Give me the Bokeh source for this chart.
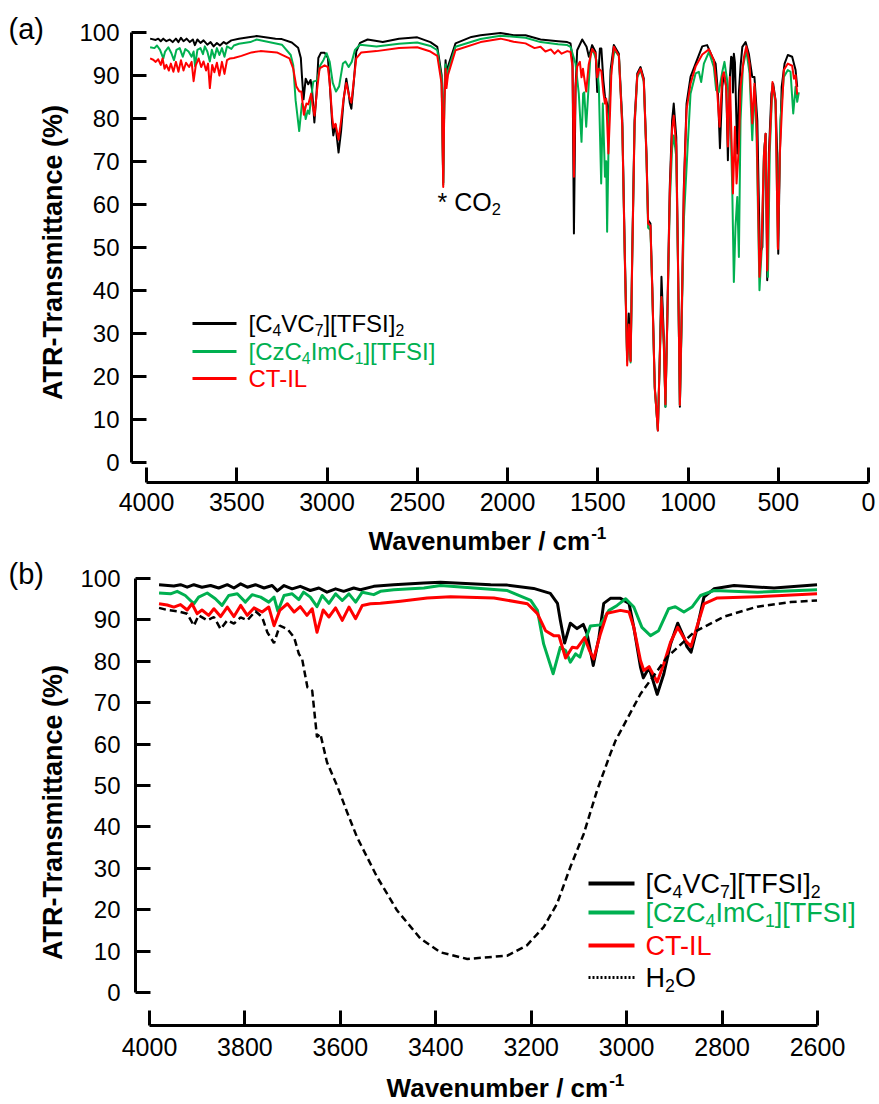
import numpy as np
from bokeh.plotting import figure
from bokeh.models import Range1d, FixedTicker, Label, Arrow
from bokeh.layouts import column
from bokeh.embed import file_html
from bokeh.resources import INLINE

FONT = "Liberation Sans"
BLACK, GREEN, RED = "#000000", "#00B050", "#FF0000"

# ATR-FTIR spectra: (wavenumber / cm-1, transmittance / %)
C4VC7_TFSI2 = [
    (3980, 98.5), (3949, 98.2), (3935, 98.5), (3921, 97.9), (3907, 98.5), (3890, 97.9),
    (3872, 98.3), (3855, 97.7), (3837, 98.5), (3823, 97.7), (3809, 98.7), (3795, 97.9),
    (3778, 98.5), (3760, 97.7), (3743, 98.3), (3732, 97.0), (3718, 98.3), (3701, 97.5),
    (3684, 98.1), (3663, 97.1), (3645, 97.7), (3628, 96.7), (3610, 97.5), (3593, 96.9),
    (3572, 97.7), (3558, 97.3), (3530, 98.1), (3488, 98.5), (3425, 98.9), (3390, 99.1),
    (3285, 98.5), (3250, 98.4), (3195, 97.6), (3160, 96.4), (3145, 94.0), (3139, 89.9),
    (3130, 84.4), (3118, 89.2), (3104, 87.9), (3091, 88.9), (3083, 86.7), (3070, 79.0),
    (3058, 85.8), (3048, 94.0), (3034, 95.2), (3013, 95.2), (2995, 94.0), (2985, 88.2),
    (2971, 78.6), (2965, 76.0), (2953, 78.5), (2936, 72.0), (2922, 77.0), (2908, 84.2),
    (2893, 89.2), (2880, 85.8), (2874, 83.6), (2865, 82.2), (2852, 88.2), (2838, 95.5),
    (2817, 97.5), (2775, 98.3), (2691, 97.7), (2601, 98.5),
    (2500, 98.8), (2427, 97.7), (2389, 96.6), (2365, 90.0), (2356, 65.0), (2350, 85.0),
    (2343, 93.5), (2338, 88.8), (2330, 92.0), (2288, 97.4), (2200, 98.9), (2149, 99.3),
    (2039, 99.8), (1966, 99.3), (1900, 99.3), (1817, 98.3), (1720, 97.9), (1669, 97.7),
    (1651, 97.4), (1640, 94.0), (1632, 53.2), (1623, 87.3), (1614, 95.8), (1586, 98.3),
    (1562, 96.6), (1549, 94.3), (1531, 97.0), (1512, 95.4), (1503, 86.1), (1488, 96.2),
    (1480, 96.2), (1469, 88.8), (1460, 85.0), (1448, 83.4), (1438, 79.5), (1429, 91.2),
    (1411, 97.0), (1383, 95.0), (1364, 79.5), (1350, 48.6), (1337, 23.7), (1328, 34.6),
    (1318, 23.7), (1309, 48.6), (1296, 79.5), (1281, 90.4), (1263, 91.9), (1245, 89.2),
    (1230, 71.8), (1221, 56.3), (1208, 55.5), (1198, 40.8), (1184, 17.5), (1167, 7.4),
    (1156, 25.3), (1147, 43.1), (1134, 29.1), (1125, 12.9), (1115, 33.0), (1101, 64.0),
    (1088, 79.5), (1079, 83.4), (1065, 75.6), (1056, 48.5), (1045, 12.9), (1032, 40.8),
    (1023, 64.0), (1008, 83.4), (986, 89.6), (958, 92.7), (921, 96.7), (894, 97.0),
    (866, 94.3), (847, 92.7), (834, 85.7), (823, 73.0), (810, 87.3), (801, 90.4),
    (788, 87.3), (779, 70.2), (768, 89.6), (761, 94.3), (755, 94.0), (751, 86.0),
    (746, 95.0), (740, 93.0), (727, 71.8), (718, 86.0), (709, 92.0), (699, 96.6),
    (681, 97.7), (663, 95.0), (644, 89.6), (632, 89.6), (616, 79.5), (602, 48.5),
    (588, 50.0), (579, 71.8), (570, 76.4), (561, 42.3), (552, 71.8), (538, 85.7),
    (528, 88.0), (515, 84.2), (506, 71.8), (500, 48.5), (491, 71.8), (481, 87.3),
    (465, 92.7), (447, 94.7), (423, 94.3), (404, 91.2), (395, 87.3),
]

CZC4IMC1_TFSI = [
    (3980, 96.5), (3956, 96.3), (3942, 96.9), (3925, 95.9), (3907, 93.9), (3897, 95.5),
    (3879, 96.5), (3862, 95.1), (3848, 93.5), (3834, 95.9), (3816, 96.3), (3799, 94.3),
    (3785, 96.1), (3767, 95.5), (3750, 94.3), (3739, 95.5), (3731, 92.1), (3718, 95.9),
    (3701, 96.3), (3687, 94.9), (3677, 96.7), (3663, 95.5), (3649, 93.2), (3638, 95.9),
    (3624, 94.0), (3610, 96.3), (3596, 94.7), (3582, 96.3), (3568, 94.3), (3554, 96.7),
    (3530, 96.1), (3516, 96.9), (3488, 97.3), (3425, 97.7), (3390, 98.3),
    (3250, 97.1), (3201, 94.7), (3187, 92.3), (3174, 84.2), (3154, 77.0), (3139, 83.4),
    (3128, 82.6), (3118, 79.8), (3107, 81.8), (3098, 81.0), (3086, 85.4), (3076, 88.5),
    (3055, 88.8), (3037, 92.3), (3020, 93.5), (3002, 95.1), (2985, 93.1), (2968, 88.2),
    (2950, 86.2), (2933, 87.4), (2912, 92.7), (2898, 93.2), (2880, 91.9), (2863, 93.1),
    (2845, 95.9), (2817, 97.1), (2726, 96.7), (2601, 97.3),
    (2500, 97.6), (2427, 96.8), (2389, 95.8), (2365, 89.0), (2356, 64.5), (2350, 84.0),
    (2343, 92.5), (2338, 88.0), (2330, 91.0), (2288, 96.6), (2149, 98.4), (2039, 99.2),
    (1900, 98.7), (1817, 97.7), (1720, 97.2), (1669, 97.0), (1651, 96.6), (1623, 92.7),
    (1605, 85.7), (1590, 74.5), (1581, 85.7), (1575, 86.0), (1564, 78.0), (1554, 85.0),
    (1540, 95.0), (1527, 95.8), (1507, 93.5), (1494, 87.3), (1481, 64.8), (1472, 83.4),
    (1460, 66.4), (1453, 70.0), (1448, 53.6), (1438, 79.5), (1425, 91.2), (1407, 95.8),
    (1383, 94.5), (1364, 78.0), (1350, 47.0), (1337, 23.5), (1328, 28.4), (1318, 23.2),
    (1309, 47.0), (1296, 78.0), (1281, 89.5), (1263, 91.2), (1245, 88.5), (1230, 70.5),
    (1221, 54.5), (1208, 54.0), (1198, 40.0), (1184, 17.0), (1167, 7.6), (1156, 24.5),
    (1147, 38.4), (1134, 27.0), (1125, 12.9), (1115, 32.0), (1101, 60.0), (1088, 73.0),
    (1079, 76.0), (1065, 71.0), (1056, 47.0), (1045, 13.3), (1032, 38.0), (1023, 56.3),
    (1001, 74.1), (986, 85.7), (958, 90.4), (940, 90.8), (927, 88.4), (912, 92.7),
    (884, 95.4), (857, 91.9), (844, 86.5), (829, 86.1), (810, 90.8), (798, 93.1),
    (783, 88.8), (765, 81.1), (755, 64.0), (746, 41.9), (737, 54.7), (727, 61.7),
    (718, 47.7), (709, 79.5), (696, 91.9), (677, 95.8), (659, 90.4), (644, 74.9),
    (632, 87.3), (620, 75.6), (604, 40.0), (593, 48.5), (579, 71.8), (570, 76.0),
    (557, 43.1), (547, 72.0), (532, 88.0), (515, 83.4), (502, 50.0), (488, 79.5),
    (469, 89.6), (447, 91.2), (432, 90.8), (417, 81.1), (404, 87.3), (395, 83.8),
    (386, 86.0),
]

CT_IL = [
    (3980, 93.9), (3963, 93.6), (3949, 93.1), (3935, 93.7), (3921, 92.4), (3911, 93.9),
    (3900, 91.5), (3890, 92.4), (3876, 91.1), (3865, 92.7), (3851, 90.8), (3837, 93.1),
    (3823, 90.8), (3809, 93.5), (3795, 91.1), (3781, 92.9), (3764, 91.9), (3750, 93.1),
    (3739, 88.6), (3727, 92.3), (3711, 93.9), (3697, 91.9), (3684, 93.2), (3670, 91.1),
    (3659, 92.7), (3649, 87.0), (3636, 92.4), (3624, 90.7), (3610, 92.9), (3596, 89.9),
    (3582, 93.1), (3568, 90.3), (3554, 93.5), (3537, 93.9), (3516, 94.0), (3474, 94.5),
    (3418, 95.3), (3369, 95.6),
    (3278, 95.3), (3208, 93.9), (3187, 91.5), (3170, 87.4), (3153, 86.2), (3142, 86.2),
    (3128, 80.8), (3114, 83.4), (3104, 83.2), (3088, 85.7), (3078, 82.6), (3069, 80.6),
    (3055, 86.6), (3041, 91.6), (3013, 92.3), (2995, 91.9), (2985, 88.2), (2971, 80.2),
    (2964, 77.8), (2953, 78.7), (2936, 75.0), (2922, 79.4), (2908, 84.6), (2893, 88.2),
    (2877, 85.0), (2865, 83.6), (2852, 88.6), (2838, 93.9), (2810, 95.3), (2726, 95.6),
    (2601, 96.3),
    (2500, 96.5), (2427, 95.5), (2389, 94.5), (2365, 88.0), (2356, 64.0), (2350, 83.0),
    (2343, 91.5), (2338, 87.0), (2330, 90.0), (2288, 95.8), (2149, 97.7), (2039, 98.5),
    (1966, 97.8), (1900, 97.4), (1850, 96.3), (1817, 96.6), (1790, 95.5), (1760, 96.0),
    (1740, 95.0), (1720, 95.8), (1700, 95.0), (1669, 95.6), (1651, 95.4), (1640, 92.0),
    (1632, 66.4), (1623, 87.3), (1614, 92.0), (1599, 93.1), (1590, 89.5), (1582, 91.5),
    (1564, 86.2), (1550, 92.5), (1531, 96.1), (1512, 95.0), (1503, 89.5), (1494, 91.5),
    (1480, 91.0), (1469, 86.0), (1460, 83.4), (1453, 84.5), (1441, 71.8), (1433, 80.0),
    (1425, 90.0), (1411, 96.6), (1383, 94.5), (1364, 78.0), (1350, 47.5), (1337, 22.5),
    (1328, 32.0), (1318, 23.5), (1309, 47.5), (1296, 78.5), (1281, 90.0), (1263, 91.5),
    (1245, 88.8), (1230, 71.0), (1221, 55.5), (1208, 55.0), (1198, 40.5), (1184, 17.2),
    (1167, 7.4), (1156, 25.0), (1147, 38.4), (1134, 27.5), (1125, 13.5), (1115, 32.5),
    (1101, 62.5), (1088, 77.5), (1079, 80.6), (1065, 73.5), (1056, 48.0), (1045, 13.3),
    (1032, 40.5), (1023, 63.0), (1008, 82.0), (986, 88.0), (958, 92.0), (921, 94.8),
    (884, 96.0), (857, 93.5), (840, 87.3), (825, 78.0), (810, 89.6), (801, 90.7),
    (788, 87.0), (779, 73.4), (768, 89.6), (751, 62.5), (740, 78.0), (731, 64.8),
    (718, 73.4), (709, 87.3), (690, 94.2), (677, 96.7), (659, 92.7), (644, 78.8),
    (632, 88.0), (620, 79.0), (604, 43.1), (593, 50.0), (579, 71.8), (570, 76.4),
    (561, 44.6), (550, 72.0), (532, 88.4), (515, 84.0), (502, 49.6), (491, 71.8),
    (469, 91.2), (447, 92.7), (423, 92.2), (413, 89.2), (404, 90.0), (395, 85.5),
]

H2O = [
    (3980, 92.9), (3963, 92.4), (3942, 92.1), (3921, 91.5), (3907, 88.6), (3897, 91.1),
    (3879, 89.9), (3865, 90.7), (3851, 87.8), (3837, 89.9), (3823, 89.1), (3809, 90.6),
    (3795, 89.9), (3778, 92.1), (3764, 90.7), (3753, 87.0), (3739, 84.4), (3727, 88.6),
    (3711, 87.8), (3697, 85.8), (3687, 81.8), (3680, 80.5), (3669, 73.7), (3659, 72.9),
    (3649, 61.7), (3642, 62.5), (3628, 55.6), (3607, 50.0), (3586, 43.6), (3565, 37.5),
    (3523, 27.9), (3481, 19.8), (3432, 13.0), (3390, 9.7), (3334, 8.1), (3250, 8.9),
    (3209, 11.4), (3174, 15.8), (3146, 21.4), (3118, 30.3), (3090, 38.3), (3062, 48.8),
    (3034, 57.7), (3023, 60.9), (2971, 72.1), (2915, 81.0), (2859, 87.0), (2796, 90.8),
    (2726, 93.2), (2656, 94.3), (2601, 94.7),
]

Y_TICKS = [0, 10, 20, 30, 40, 50, 60, 70, 80, 90, 100]
X_TICKS_FULL = [0, 500, 1000, 1500, 2000, 2500, 3000, 3500, 4000]
X_TICKS_ZOOM = [2600, 2800, 3000, 3200, 3400, 3600, 3800, 4000]

# Arial / Liberation Sans advance widths (units per 1000 em)
REG = {"[": 278, "]": 278, "C": 722, "V": 667, "T": 611, "F": 611, "S": 667, "I": 278,
       "z": 500, "m": 833, "l": 222, "-": 333, "L": 556, "H": 722, "O": 778, " ": 278,
       "*": 389, "(": 333, ")": 333, "a": 556, "b": 556}
BOLD = {"W": 944, "a": 556, "v": 556, "e": 556, "n": 611, "u": 611, "m": 889, "b": 611,
        "r": 389, " ": 278, "/": 278, "c": 556, "-": 333, "1": 556}

W = 879
H_A, H_B = 556, 548


def text_width(s, size, bold):
    table = BOLD if bold else REG
    return sum(table.get(ch, 556) for ch in s) * size / 1000.0


def lin(p1, v1, p2, v2):
    """Linear map from a pixel position to a data value."""
    return lambda px: v1 + (px - p1) * (v2 - v1) / (p2 - p1)


class Panel:
    """One spectrum panel; the plot frame fills the whole canvas and the axes
    are pinned at fixed data positions inside it."""

    def __init__(self, height, xmap, ymap, yaxis_px, xaxis_px, x_ticks, x_bounds,
                 x_size, y_size, x_standoff, y_standoff):
        self.h = height
        p = figure(width=W, height=height,
                   x_range=Range1d(xmap(0), xmap(W)), y_range=Range1d(ymap(height), ymap(0)),
                   output_backend="svg", toolbar_location=None, title=None,
                   min_border_left=0, min_border_right=0,
                   min_border_top=0, min_border_bottom=0)
        p.outline_line_color = None
        p.xgrid.visible = False
        p.ygrid.visible = False
        for ax in (p.xaxis[0], p.yaxis[0]):
            ax.axis_line_width = 3
            ax.axis_line_color = "black"
            ax.major_tick_line_width = 3
            ax.major_tick_line_color = "black"
            ax.major_tick_in = 15
            ax.major_tick_out = 0
            ax.minor_tick_line_color = None
            ax.major_label_text_font = FONT
            ax.major_label_text_color = "black"
        xa, ya = p.xaxis[0], p.yaxis[0]
        xa.ticker = FixedTicker(ticks=x_ticks)
        xa.bounds = x_bounds
        xa.fixed_location = ymap(xaxis_px)
        xa.major_label_text_font_size = f"{x_size}px"
        xa.major_label_standoff = x_standoff
        ya.ticker = FixedTicker(ticks=Y_TICKS)
        ya.bounds = (0, 100)
        ya.fixed_location = xmap(yaxis_px)
        ya.major_label_text_font_size = f"{y_size}px"
        ya.major_label_standoff = y_standoff
        self.p = p

    # text and legend helpers take pixel positions inside the panel (y down)
    def label(self, x, y, text, size, color="black", bold=False, align="left", angle=0.0):
        self.p.add_layout(Label(
            x=x, y=self.h - y, x_units="screen", y_units="screen",
            text=text, text_font=FONT, text_font_size=f"{size:.1f}px",
            text_font_style="bold" if bold else "normal", text_color=color,
            text_align=align, text_baseline="middle", angle=angle))

    def rich(self, x, y, pieces, size, color="black", bold=False, center=False):
        small = size * 0.66
        sizes = [size if k == "n" else small for _, k in pieces]
        widths = [text_width(t, s, bold) for (t, _), s in zip(pieces, sizes)]
        if center:
            x -= sum(widths) / 2.0
        for (t, k), s, w in zip(pieces, sizes, widths):
            dy = 0.0 if k == "n" else (0.28 * size if k == "sub" else -0.28 * size)
            self.label(x, y + dy, t, s, color=color, bold=bold)
            x += w

    def swatch(self, x0, x1, y, color, width, dash="solid"):
        self.p.add_layout(Arrow(
            x_start=x0, y_start=self.h - y, x_end=x1, y_end=self.h - y,
            start_units="screen", end_units="screen", start=None, end=None,
            line_color=color, line_width=width, line_dash=dash))


def xy(series, lo=None):
    wn = np.array([a for a, _ in series], dtype=float)
    t = np.array([b for _, b in series], dtype=float)
    if lo is not None:
        keep = wn >= lo
        wn, t = wn[keep], t[keep]
    return wn, t


LEGEND_C4 = [("[C", "n"), ("4", "sub"), ("VC", "n"), ("7", "sub"), ("][TFSI]", "n"), ("2", "sub")]
LEGEND_CZ = [("[CzC", "n"), ("4", "sub"), ("ImC", "n"), ("1", "sub"), ("][TFSI]", "n")]
LEGEND_CT = [("CT-IL", "n")]
LEGEND_W = [("H", "n"), ("2", "sub"), ("O", "n")]
X_TITLE = [("Wavenumber / cm", "n"), ("-1", "sup")]
Y_TITLE = "ATR-Transmittance (%)"

# ---------------- (a) full range ----------------
a = Panel(H_A, xmap=lin(146, 4000, 868, 0), ymap=lin(461.7, 0, 31.7, 100),
          yaxis_px=131, xaxis_px=482, x_ticks=X_TICKS_FULL, x_bounds=(0, 4000),
          x_size=25, y_size=24, x_standoff=10, y_standoff=12)
for series, color in ((C4VC7_TFSI2, BLACK), (CZC4IMC1_TFSI, GREEN), (CT_IL, RED)):
    wn, t = xy(series)
    a.p.line(wn, t, line_color=color, line_width=2, line_join="round")

a.label(8, 28, "(a)", 29)
a.label(52, 252, Y_TITLE, 27, bold=True, align="center", angle=np.pi / 2)
a.rich(487, 540, X_TITLE, 26, bold=True, center=True)
a.rich(437, 201, [("* CO", "n"), ("2", "sub")], 25)

for yy, color, pieces in ((323, BLACK, LEGEND_C4), (351, GREEN, LEGEND_CZ), (378, RED, LEGEND_CT)):
    a.swatch(192, 236, yy, color, 3)
    a.rich(248, yy, pieces, 24, color=color)

# ---------------- (b) 4000-2600 cm-1 ----------------
b = Panel(H_B, xmap=lin(149, 4000, 817, 2600), ymap=lin(436, 0, 22, 100),
          yaxis_px=135, xaxis_px=469, x_ticks=X_TICKS_ZOOM, x_bounds=(2600, 4000),
          x_size=25, y_size=24, x_standoff=12, y_standoff=15)
for series, color in ((C4VC7_TFSI2, BLACK), (CZC4IMC1_TFSI, GREEN), (CT_IL, RED)):
    wn, t = xy(series, lo=2600)
    b.p.line(wn, t, line_color=color, line_width=3, line_join="round")
wn, t = xy(H2O)
b.p.line(wn, t, line_color=BLACK, line_width=2.5, line_dash="7 4")

b.label(8, 17, "(b)", 29)
b.label(52, 256, Y_TITLE, 27, bold=True, align="center", angle=np.pi / 2)
b.rich(505, 531, X_TITLE, 26, bold=True, center=True)

legend_b = ((327, BLACK, LEGEND_C4, "solid"), (356, GREEN, LEGEND_CZ, "solid"),
            (389, RED, LEGEND_CT, "solid"), (421, BLACK, LEGEND_W, "2 2"))
for yy, color, pieces, dash in legend_b:
    b.swatch(588, 634, yy, color, 4 if dash == "solid" else 3, dash)
    b.rich(645, yy, pieces, 27, color=color)

layout = column(a.p, b.p, spacing=0)
open("out.html", "w").write(file_html(layout, INLINE))
